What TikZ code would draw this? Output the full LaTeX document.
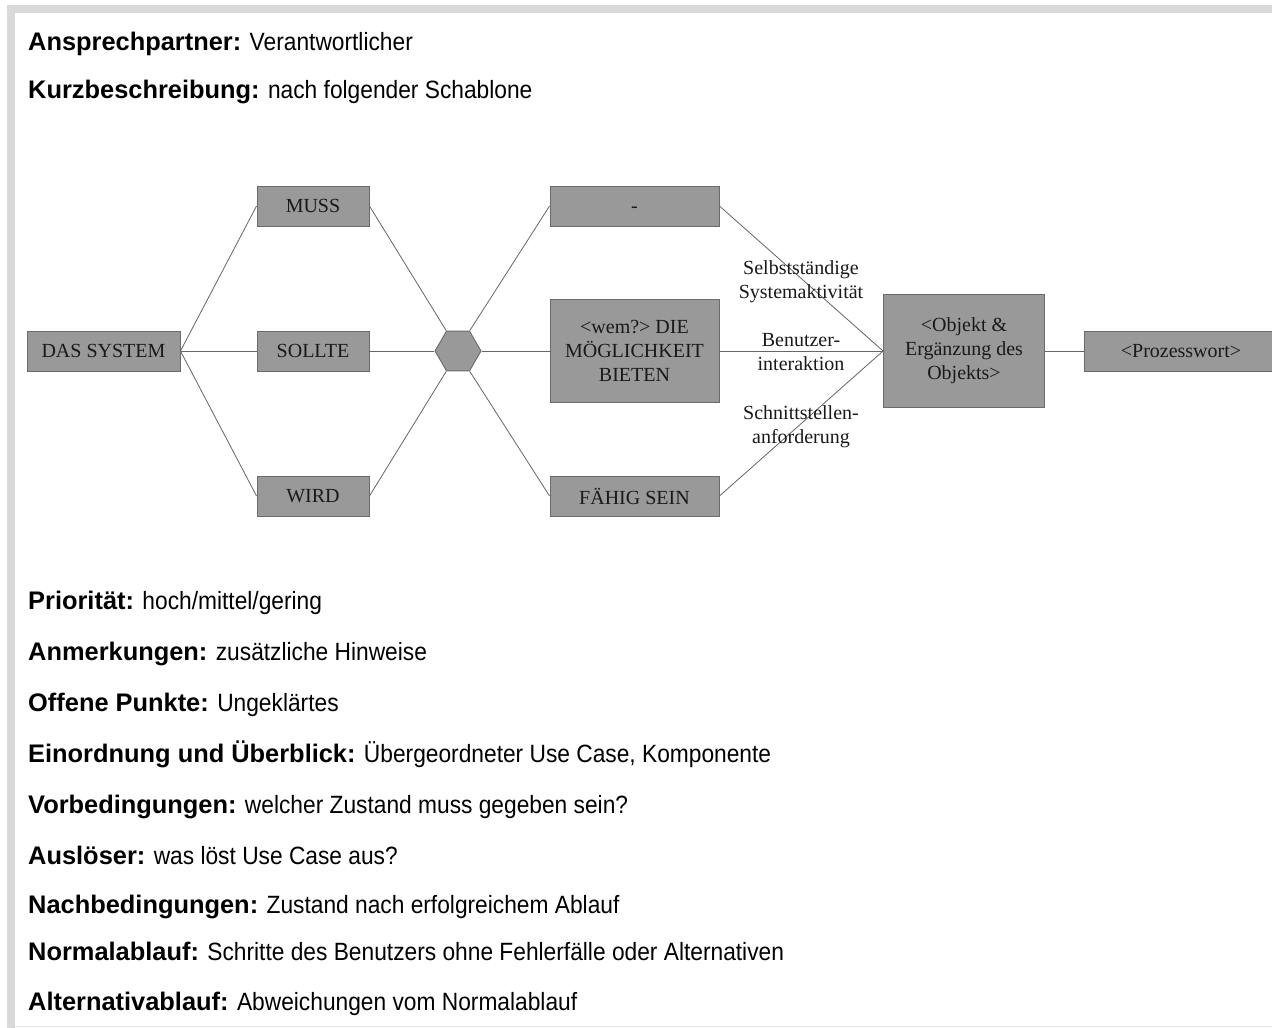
\documentclass[tikz,border=0pt]{standalone}
\usepackage{fontspec}
\setmainfont{Liberation Serif}
\newfontfamily\arialf{Liberation Sans}[FakeStretch=0.91]
\newfontfamily\arialb{Liberation Sans Bold}
\newcommand{\fld}[2]{{\arialb\fontsize{25.4}{30}\selectfont #1} #2}
\usetikzlibrary{shapes.geometric}
\begin{document}
\begin{tikzpicture}[x=1pt,y=-1pt,
  boxst/.style={draw=black!58, line width=0.9pt, fill=black!40, inner sep=0pt, text=black!90,
     font=\fontsize{20}{24}\selectfont, align=center},
  lbl/.style={inner sep=0pt, text=black!90, font=\fontsize{20}{24}\selectfont, align=center},
  conn/.style={draw=black!60, line width=0.8pt},
  field/.style={anchor=base west, inner sep=0pt, font=\arialf\fontsize{25}{30}\selectfont}]
\clip (0,0) rectangle (1272,1028);
\fill[white] (0,0) rectangle (1272,1028);
% frame
\fill[black!15] (7,5) rectangle (1272,13);
\fill[black!15] (7,5) rectangle (15,1028);
\draw[black!10, line width=0.8pt] (15,1026) -- (1272,1026);
% fields
\node[field] (f1) at (28,50) {\fld{Ansprechpartner:}{Verantwortlicher}};
\node[field] (f2) at (28,98) {\fld{Kurzbeschreibung:}{nach folgender Schablone}};
\node[field] (f3) at (28,609) {\fld{Priorität:}{hoch/mittel/gering}};
\node[field] (f4) at (28,660) {\fld{Anmerkungen:}{zusätzliche Hinweise}};
\node[field] (f5) at (28,711) {\fld{Offene Punkte:}{Ungeklärtes}};
\node[field] (f6) at (28,762) {\fld{Einordnung und Überblick:}{Übergeordneter Use Case, Komponente}};
\node[field] (f7) at (28,813) {\fld{Vorbedingungen:}{welcher Zustand muss gegeben sein?}};
\node[field] (f8) at (28,864) {\fld{Auslöser:}{was löst Use Case aus?}};
\node[field] (f9) at (28,913) {\fld{Nachbedingungen:}{Zustand nach erfolgreichem Ablauf}};
\node[field] (f10) at (28,960) {\fld{Normalablauf:}{Schritte des Benutzers ohne Fehlerfälle oder Alternativen}};
\node[field] (f11) at (28,1010) {\fld{Alternativablauf:}{Abweichungen vom Normalablauf}};
% boxes
\node[boxst, minimum width=153pt, minimum height=40pt] (sys) at (103.5,351) {DAS SYSTEM};
\node[boxst, minimum width=112pt, minimum height=40pt] (muss) at (313,206) {MUSS};
\node[boxst, minimum width=112pt, minimum height=40pt] (sollte) at (313,351) {SOLLTE};
\node[boxst, minimum width=112pt, minimum height=40pt] (wird) at (313,496) {WIRD};
\node[regular polygon, regular polygon sides=6, minimum size=46pt, inner sep=0pt,
      draw=black!58, line width=0.9pt, fill=black!40] (hex) at (458,351) {};
\node[boxst, minimum width=169pt, minimum height=40pt] (dash) at (634.5,206) {\vphantom{M}-};
\node[boxst, minimum width=169pt, minimum height=103pt] (wem) at (634.5,351) {<wem?> DIE\\MÖGLICHKEIT\\BIETEN};
\node[boxst, minimum width=169pt, minimum height=40pt] (faehig) at (634.5,496) {FÄHIG SEIN};
\node[boxst, minimum width=161pt, minimum height=113pt] (obj) at (964,351) {<Objekt \&\\Ergänzung des\\Objekts>};
\node[boxst, minimum width=194pt, minimum height=40pt] (proz) at (1181,351) {<Prozesswort>};
% connectors
\draw[conn] (sys.east) -- (muss.west);
\draw[conn] (sys.east) -- (sollte.west);
\draw[conn] (sys.east) -- (wird.west);
\draw[conn] (muss.east) -- (hex.120);
\draw[conn] (sollte.east) -- (hex.180);
\draw[conn] (wird.east) -- (hex.240);
\draw[conn] (hex.60) -- (dash.west);
\draw[conn] (hex.0) -- (wem.west);
\draw[conn] (hex.300) -- (faehig.west);
\draw[conn] (dash.east) -- (obj.west);
\draw[conn] (wem.east) -- (obj.west);
\draw[conn] (faehig.east) -- (obj.west);
\draw[conn] (obj.east) -- (proz.west);
% labels
\node[lbl] (l1) at (801,282) {Selbstständige\\Systemaktivität};
\node[lbl] (l2) at (801,352) {Benutzer-\\interaktion};
\node[lbl] (l3) at (801,427) {Schnittstellen-\\anforderung};
\end{tikzpicture}
\end{document}
